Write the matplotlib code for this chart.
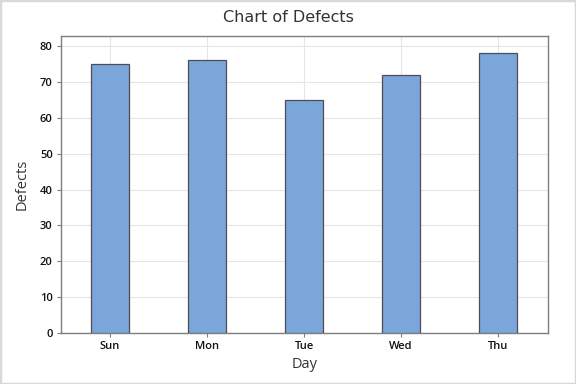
import matplotlib
matplotlib.use("Agg")
import matplotlib.pyplot as plt
from matplotlib.patches import Rectangle

days = ["Sun", "Mon", "Tue", "Wed", "Thu"]
defects = [75, 76, 65, 72, 78]
yticks = [0, 10, 20, 30, 40, 50, 60, 70, 80]

plt.rcParams['font.family'] = ['Open Sans', 'DejaVu Sans']

fig = plt.figure(figsize=(5.76, 3.84), dpi=100)
ax = fig.add_axes([61/576, 1 - 333/384, (548-61)/576, (333-36)/384])

x = list(range(len(days)))
ax.bar(x, defects, width=0.39, color="#7BA6DA", edgecolor="#4d4d55", linewidth=0.9, zorder=3)

ax.set_xlim(-0.505, 4.515)
ax.set_ylim(0, 82.8)
ax.set_xticks(x)
ax.set_xticklabels(days, fontsize=8, fontweight="semibold", color="#111111")
ax.set_yticks(yticks)
ax.set_yticklabels([str(v) for v in yticks], fontsize=8, fontweight="semibold", color="#111111")
ax.grid(True, color="#e6e6e6", linewidth=0.8, zorder=0)
ax.tick_params(axis="both", length=3, width=0.8, color="#7f7f7f", pad=3)
for s in ax.spines.values():
    s.set_color("#7f7f7f")
    s.set_linewidth(1.0)

fig.text(288/576, 1 - 18/384, "Chart of Defects", fontsize=11.5, color="#333333",
         ha="center", va="center", family=["DejaVu Sans"])
ax.set_xlabel("Day", fontsize=10.5, color="#333333", labelpad=3)
ax.set_ylabel("Defects", fontsize=10.5, color="#333333", labelpad=7)

fig.patches.append(Rectangle((0, 0), 1, 1, transform=fig.transFigure, fill=False,
                             edgecolor="#d9d9d9", linewidth=2.5))

fig.savefig("out.png", dpi=100)
